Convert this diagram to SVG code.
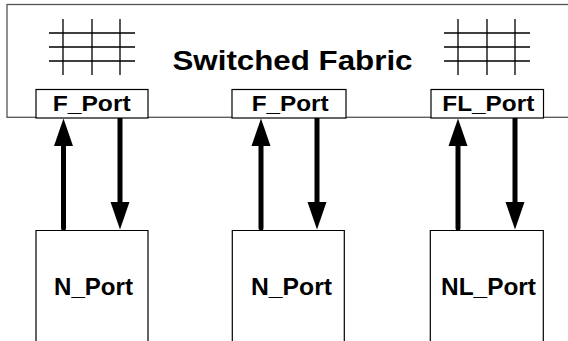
<svg xmlns="http://www.w3.org/2000/svg" width="568" height="341" viewBox="0 0 568 341">
<defs>
<style>
.lbl{font-family:"Liberation Sans",Arial,sans-serif;font-weight:bold;fill:#000}
.port{fill:#fff;stroke:#000;stroke-width:1.2}
.grid{stroke:#000;stroke-width:1.3}
.shaft{stroke:#000;stroke-width:5;fill:none}
</style>
<marker id="ah" markerUnits="userSpaceOnUse" markerWidth="28" markerHeight="20" viewBox="0 -10 28 20" refX="0" refY="0" orient="auto">
<path d="M0,-9.5 L27.5,0 L0,9.5 Z" fill="#000"/>
</marker>
</defs>
<rect width="568" height="341" fill="#fff"/>
<g id="fabric">
<rect x="7" y="4.5" width="600" height="112.8" fill="#fff" stroke="#555" stroke-width="1.3"/>
<g class="grid">
<path d="M49,33H135M49,47H135M49,61H135M63,19V75M92,19V75M120,19V75"/>
<path d="M444,33H530M444,47H530M444,61H530M458,19V75M487,19V75M515,19V75"/>
</g>
<text class="lbl" x="172.5" y="69.5" font-size="27" textLength="240" lengthAdjust="spacingAndGlyphs">Switched Fabric</text>
</g>
<g id="fport1">
<rect class="port" x="36" y="89.5" width="112" height="28.5"/>
<text class="lbl" x="52.7" y="111" font-size="21.5" textLength="78" lengthAdjust="spacingAndGlyphs">F_Port</text>
</g>
<g id="fport2">
<rect class="port" x="232" y="89.5" width="114" height="28.5"/>
<text class="lbl" x="251.7" y="111" font-size="21.5" textLength="77" lengthAdjust="spacingAndGlyphs">F_Port</text>
</g>
<g id="flport">
<rect class="port" x="431" y="89.5" width="112.5" height="28.5"/>
<text class="lbl" x="442.3" y="111" font-size="21.5" textLength="92" lengthAdjust="spacingAndGlyphs">FL_Port</text>
</g>
<g id="nport1">
<path d="M36,345V230.5H148V345" fill="#fff" stroke="#000" stroke-width="1.2"/>
<text class="lbl" x="54" y="294.5" font-size="24" textLength="79" lengthAdjust="spacingAndGlyphs">N_Port</text>
</g>
<g id="nport2">
<path d="M232.3,345V230.5H344.3V345" fill="#fff" stroke="#000" stroke-width="1.2"/>
<text class="lbl" x="251" y="294.5" font-size="24" textLength="81" lengthAdjust="spacingAndGlyphs">N_Port</text>
</g>
<g id="nlport">
<path d="M430.3,345V230.5H543.3V345" fill="#fff" stroke="#000" stroke-width="1.2"/>
<text class="lbl" x="441" y="294.5" font-size="24" textLength="95" lengthAdjust="spacingAndGlyphs">NL_Port</text>
</g>
<g id="connectors">
<path class="shaft" d="M63.5,228V146" stroke-linecap="round" marker-end="url(#ah)"/>
<path class="shaft" d="M120,118V202" marker-end="url(#ah)"/>
<path class="shaft" d="M261,228V146" stroke-linecap="round" marker-end="url(#ah)"/>
<path class="shaft" d="M317,118V202" marker-end="url(#ah)"/>
<path class="shaft" d="M458,228V146" stroke-linecap="round" marker-end="url(#ah)"/>
<path class="shaft" d="M515,118V202" marker-end="url(#ah)"/>
</g>
</svg>
